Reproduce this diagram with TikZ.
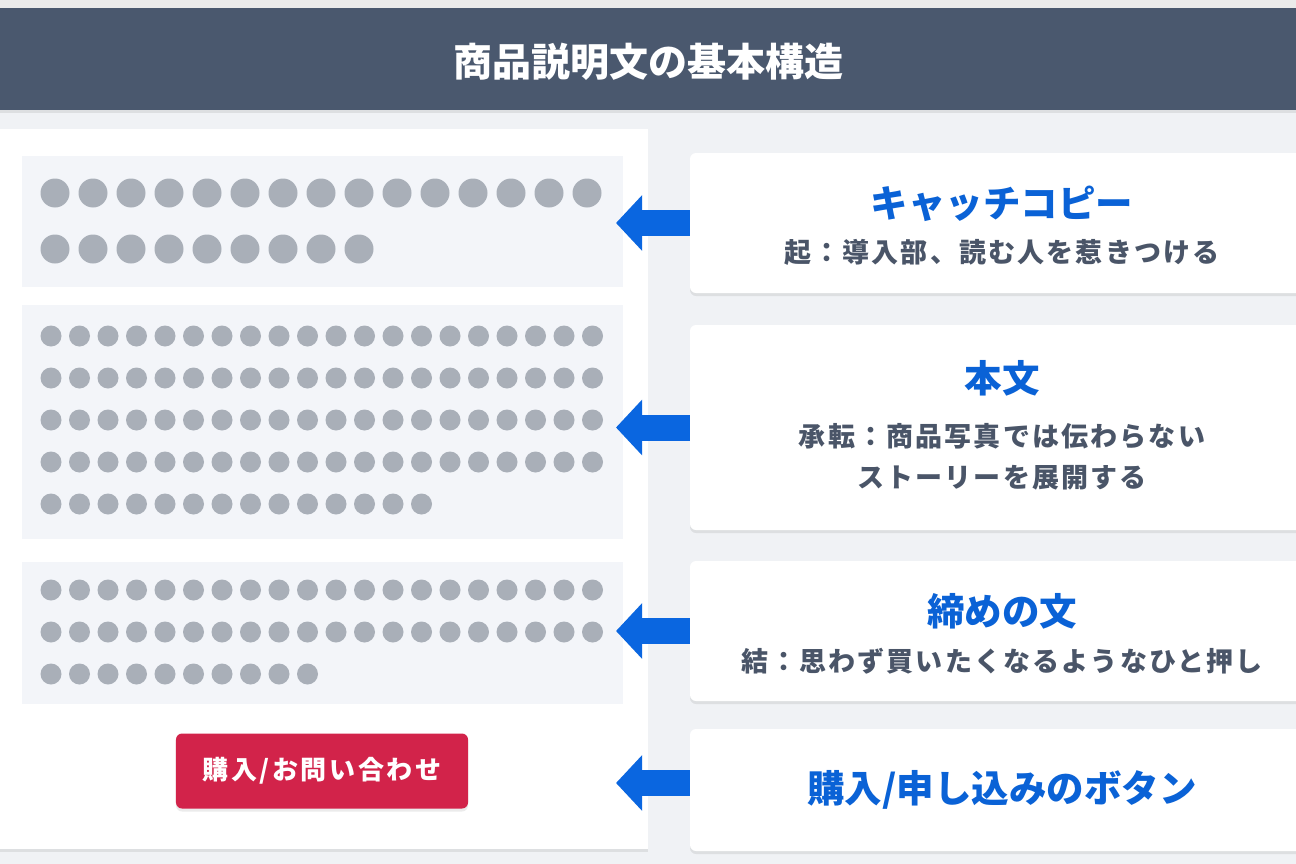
\documentclass[tikz,border=0pt]{standalone}
\usepackage{fontspec}
\usetikzlibrary{arrows.meta,shadows}
\newfontfamily\jpfont{Noto Sans CJK JP}
\newfontfamily\jpwide{Noto Sans CJK JP}[LetterSpace=8]
\newfontfamily\jpbtn{Noto Sans CJK JP}[LetterSpace=10]
\definecolor{bggray}{HTML}{F0F2F5}
\definecolor{headgray}{HTML}{4A586E}
\definecolor{blockgray}{HTML}{F3F5F9}
\definecolor{dotgray}{HTML}{A9AFB8}
\definecolor{btnred}{HTML}{D2234A}
\definecolor{arrowblue}{HTML}{0A66E0}
\definecolor{titleblue}{HTML}{0A62D6}
\definecolor{notegray}{HTML}{4A5568}
\tikzset{
  softshadow/.style={drop shadow={shadow xshift=0bp, shadow yshift=-3bp, opacity=0.08, fill=black}},
  card/.style={fill=white, rounded corners=6bp, minimum width=624bp, softshadow},
  textblock/.style={fill=blockgray, minimum width=601bp, inner sep=0pt},
  dot/.style={fill=dotgray},
  bigarrow/.style={draw=arrowblue, line width=26bp, -{Triangle[length=26bp,width=54bp]}},
  cardtitle/.style={font=\jpfont\bfseries\fontsize{37.5bp}{42bp}\selectfont, text=titleblue, inner sep=0pt},
  cardnote/.style={font=\jpwide\bfseries\fontsize{27bp}{41bp}\selectfont, text=notegray, align=center, inner sep=0pt},
}

\begin{document}
\begin{tikzpicture}[x=1bp,y=-1bp]
		%%%%% START %%%%%
		\useasboundingbox (0,0) rectangle (1296,864);
		\fill[bggray] (0,0) rectangle (1296,864);
		\fill[black!8] (0,0) rectangle (1296,8);
		
		% header
		\fill[headgray, softshadow] (-10,8) rectangle (1306,110);
		\node[font=\jpfont\bfseries\fontsize{39bp}{43bp}\selectfont, text=white] (heading) at (648,62) {商品説明文の基本構造};
		
		% left page
		\fill[white, softshadow] (-10,129) rectangle (648,849);
		
		\node[textblock, minimum height=131bp] (blk1) at (322.5,221.5) {};
		\node[textblock, minimum height=234bp] (blk2) at (322.5,422) {};
		\node[textblock, minimum height=142bp] (blk3) at (322.5,633) {};
		
		\foreach \i in {0,...,14} \fill[dot] (55+38*\i,193) circle (14.5bp);
		\foreach \i in {0,...,8} \fill[dot] (55+38*\i,249) circle (14.5bp);
		
		\foreach \j in {0,...,3}
			\foreach \i in {0,...,19} \fill[dot] (51+28.5*\i,336+42*\j) circle (10.5bp);
		\foreach \i in {0,...,13} \fill[dot] (51+28.5*\i,504) circle (10.5bp);
		
		\foreach \j in {0,1}
			\foreach \i in {0,...,19} \fill[dot] (51+28.5*\i,590+42*\j) circle (10.5bp);
		\foreach \i in {0,...,9} \fill[dot] (51+28.5*\i,674) circle (10.5bp);
		
		\node[fill=btnred, rounded corners=6bp, minimum width=292bp, minimum height=75bp, softshadow,
			font=\jpbtn\bfseries\fontsize{26bp}{30bp}\selectfont, text=white] (btn) at (322,771) {購入/お問い合わせ};
		
		% right cards
		\node[card, minimum height=140bp] (card1) at (1002,223) {};
		\node[card, minimum height=205bp] (card2) at (1002,427.5) {};
		\node[card, minimum height=140bp] (card3) at (1002,631) {};
		\node[card, minimum height=122bp] (card4) at (1002,790) {};
		
		\node[cardtitle] (title1) at (1002,204) {キャッチコピー};
		\node[cardnote] (note1) at (1002,252) {起：導入部、読む人を惹きつける};
		\node[cardtitle] (title2) at (1002,378) {本文};
		\node[cardnote] (note2) at (1002,457) {承転：商品写真では伝わらない\\ストーリーを展開する};
		\node[cardtitle] (title3) at (1002,611) {締めの文};
		\node[cardnote] (note3) at (1002,661) {結：思わず買いたくなるようなひと押し};
		\node[cardtitle] (title4) at (1002,790) {購入/申し込みのボタン};
		
		% arrows
		\coordinate (tipx) at (616,0);
		\coordinate (a4) at ([yshift=7bp]card4.west);
		\draw[bigarrow] (card1.west) -- (card1.west -| tipx);
		\draw[bigarrow] (card2.west) -- (card2.west -| tipx);
		\draw[bigarrow] (card3.west) -- (card3.west -| tipx);
		\draw[bigarrow] (a4) -- (a4 -| tipx);
		
		%%%%% END %%%%%
\end{tikzpicture}
\end{document}
